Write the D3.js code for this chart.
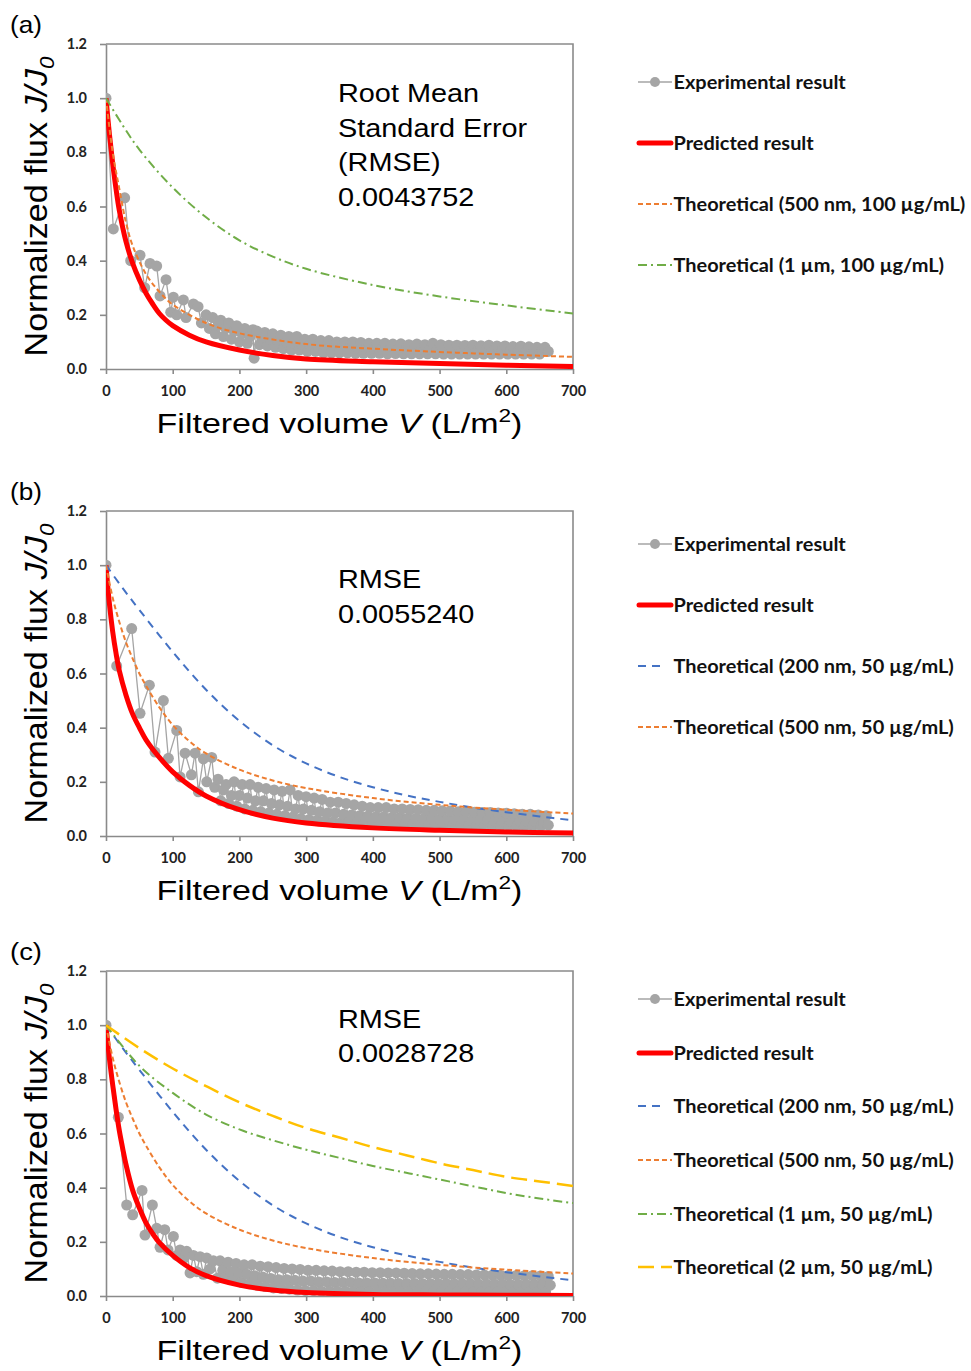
<!DOCTYPE html>
<html>
<head>
<meta charset="utf-8">
<script src="https://cdn.jsdelivr.net/npm/d3@7"></script>
<style>
  html, body { margin: 0; padding: 0; background: #fff; }
  svg { display: block; }
</style>
</head>
<body>
<svg id="fig" width="971" height="1371"></svg>
<script>
// ---- Axis ticks ----
const volumeTicks = [0, 100, 200, 300, 400, 500, 600, 700];
const fluxTicks = [0, 0.2, 0.4, 0.6, 0.8, 1.0, 1.2];

// ---- Experimental flux decline, [V (L/m2), J/J0] ----
const expA = [[0,1.0],[11,0.517],[28,0.632],[37,0.40],[51,0.42],[58,0.30],[66,0.39],[76,0.38],[81,0.27],[90,0.33],[97,0.21],[101,0.265],[106,0.20],[116,0.255],[120,0.19],[131,0.24],[138,0.23],[143,0.17],[150,0.20],[155,0.15],
[160,0.19],[164,0.13],[168,0.16],[172,0.18],[176,0.12],[180,0.15],[184,0.17],[188,0.11],[192,0.14],[196,0.16],[200,0.10],[204,0.13],[208,0.15],[212,0.095],[216,0.12],[220,0.145],[222,0.04],[226,0.14],[230,0.09],[234,0.115],[238,0.135],[242,0.085],[246,0.11],[250,0.13],[254,0.08],[258,0.105],[262,0.125],[266,0.075],[270,0.10],[274,0.12],[278,0.07],[282,0.095],[286,0.12],[290,0.07],[294,0.09],[298,0.11],
[302,0.065],[306,0.09],[310,0.11],[314,0.065],[318,0.085],[322,0.105],[326,0.06],[330,0.085],[334,0.105],[338,0.06],[342,0.08],[346,0.10],[350,0.06],[354,0.08],[358,0.10],[362,0.06],[366,0.08],[370,0.10],[374,0.058],[378,0.078],[382,0.098],[386,0.058],[390,0.078],[394,0.095],[398,0.058],[402,0.078],[406,0.095],
[410,0.058],[414,0.076],[418,0.095],[422,0.056],[426,0.075],[430,0.092],[434,0.057],[438,0.075],[442,0.093],[446,0.056],[450,0.074],[454,0.09],[458,0.056],[462,0.074],[466,0.092],[470,0.056],[474,0.073],[478,0.09],[482,0.056],[486,0.073],[490,0.095],[494,0.056],[498,0.073],[502,0.09],[506,0.055],[510,0.072],[514,0.088],[518,0.055],[522,0.072],[526,0.088],[530,0.055],[534,0.071],[538,0.087],[542,0.055],[546,0.071],[550,0.088],[554,0.055],[558,0.07],[562,0.086],[566,0.055],[570,0.07],[574,0.088],[578,0.055],[582,0.07],[586,0.085],[590,0.055],[594,0.069],[598,0.085],
[602,0.055],[606,0.068],[610,0.083],[614,0.055],[618,0.068],[622,0.084],[626,0.055],[630,0.068],[634,0.082],[638,0.055],[642,0.067],[646,0.08],[650,0.055],[654,0.067],[658,0.08],[663,0.065]];

const expB = [[0,1.0],[16,0.628],[38.5,0.766],[51,0.453],[65,0.557],[73.5,0.31],[86,0.50],[93.5,0.287],[106,0.39],[111,0.218],[118.5,0.306],[128,0.226],[133.5,0.306],[138.5,0.163],[146,0.285],[151,0.20],[158.5,0.29],[163,0.18],
[168,0.21],[172,0.13],[176,0.17],[180,0.19],[184,0.12],[188,0.15],[192,0.20],[196,0.11],[200,0.15],[204,0.19],[208,0.10],[212,0.14],[216,0.19],[220,0.095],[224,0.13],[228,0.18],[232,0.09],[236,0.13],[240,0.175],[244,0.085],[248,0.12],[252,0.17],[256,0.08],[260,0.115],[264,0.165],[268,0.075],[272,0.11],[276,0.17],[280,0.07],[284,0.10],[288,0.15],[292,0.065],[296,0.10],[300,0.145],
[304,0.06],[308,0.095],[312,0.14],[316,0.058],[320,0.09],[324,0.135],[328,0.055],[332,0.085],[336,0.125],[340,0.052],[344,0.085],[348,0.125],[352,0.05],[356,0.08],[360,0.12],[364,0.05],[368,0.078],[372,0.115],[376,0.048],[380,0.075],[384,0.11],[388,0.048],[392,0.073],[396,0.105],[400,0.046],
[404,0.07],[408,0.105],[412,0.045],[416,0.07],[420,0.105],[424,0.045],[428,0.068],[432,0.10],[436,0.044],[440,0.067],[444,0.10],[448,0.043],[452,0.066],[456,0.098],[460,0.043],[464,0.065],[468,0.097],[472,0.042],[476,0.064],[480,0.095],[484,0.042],[488,0.063],[492,0.095],[496,0.041],[500,0.062],
[504,0.093],[508,0.041],[512,0.061],[516,0.092],[520,0.04],[524,0.06],[528,0.09],[532,0.04],[536,0.06],[540,0.09],[544,0.04],[548,0.058],[552,0.088],[556,0.039],[560,0.057],[564,0.087],[568,0.039],[572,0.056],[576,0.087],[580,0.038],[584,0.055],[588,0.085],[592,0.038],[596,0.055],[600,0.084],
[604,0.038],[608,0.054],[612,0.082],[616,0.037],[620,0.053],[624,0.08],[628,0.037],[632,0.052],[636,0.08],[640,0.037],[644,0.052],[648,0.078],[652,0.037],[656,0.05],[660,0.075],[663,0.04]];

const expC = [[0,1.0],[18.5,0.66],[31,0.336],[40,0.30],[54,0.39],[58.5,0.225],[69.5,0.336],[76,0.25],[81,0.18],[88,0.245],[93,0.17],[101,0.22],[106,0.15],[111,0.17],[117,0.14],[121,0.165],[126,0.085],[131,0.15],[136,0.09],[141,0.145],[146,0.08],[151,0.14],[156,0.10],[161,0.13],
[167,0.066],[171,0.13],[175,0.095],[179,0.07],[183,0.125],[187,0.09],[191,0.06],[195,0.12],[199,0.085],[203,0.05],[207,0.115],[211,0.08],[215,0.045],[219,0.115],[223,0.075],[227,0.04],[231,0.11],[235,0.07],[239,0.035],[243,0.108],[247,0.065],[251,0.03],[255,0.105],[259,0.06],[263,0.028],[267,0.102],[271,0.06],[275,0.025],[279,0.10],[283,0.058],[287,0.022],[291,0.098],[295,0.055],[299,0.02],
[303,0.095],[307,0.055],[311,0.02],[315,0.095],[319,0.052],[323,0.018],[327,0.093],[331,0.052],[335,0.018],[339,0.092],[343,0.05],[347,0.017],[351,0.09],[355,0.05],[359,0.017],[363,0.09],[367,0.05],[371,0.016],[375,0.088],[379,0.048],[383,0.016],[387,0.088],[391,0.048],[395,0.016],[399,0.086],
[403,0.048],[407,0.015],[411,0.086],[415,0.047],[419,0.015],[423,0.085],[427,0.047],[431,0.015],[435,0.085],[439,0.046],[443,0.015],[447,0.084],[451,0.046],[455,0.015],[459,0.083],[463,0.046],[467,0.015],[471,0.082],[475,0.045],[479,0.015],[483,0.082],[487,0.045],[491,0.015],[495,0.081],[499,0.045],
[503,0.015],[507,0.08],[511,0.045],[515,0.015],[519,0.08],[523,0.044],[527,0.015],[531,0.079],[535,0.044],[539,0.015],[543,0.079],[547,0.044],[551,0.015],[555,0.078],[559,0.043],[563,0.015],[567,0.078],[571,0.043],[575,0.015],[579,0.077],[583,0.043],[587,0.015],[591,0.077],[595,0.043],[599,0.015],
[603,0.076],[607,0.042],[611,0.015],[615,0.076],[619,0.042],[623,0.015],[627,0.075],[631,0.042],[635,0.015],[639,0.075],[643,0.042],[647,0.015],[651,0.074],[655,0.042],[659,0.015],[663,0.072],[666,0.04]];

// ---- Model predictions, [V, J/J0] ----
const predA = [[0,1.0],[5,0.87],[10,0.76],[15,0.665],[20,0.585],[30,0.47],[40,0.39],[50,0.33],[60,0.28],[70,0.24],[80,0.205],[90,0.18],[100,0.16],[125,0.125],[150,0.10],[200,0.07],[250,0.05],[300,0.037],[400,0.027],[500,0.02],[600,0.014],[700,0.009]];
const predB = [[0,1.0],[5,0.86],[10,0.755],[15,0.675],[20,0.61],[30,0.52],[40,0.45],[50,0.40],[60,0.355],[80,0.29],[100,0.237],[125,0.187],[150,0.148],[200,0.097],[250,0.066],[300,0.048],[400,0.03],[500,0.021],[600,0.015],[700,0.011]];
const predC = [[0,1.0],[5,0.88],[10,0.78],[15,0.69],[20,0.61],[25,0.545],[30,0.485],[40,0.39],[50,0.325],[60,0.27],[70,0.23],[80,0.197],[100,0.15],[125,0.105],[150,0.075],[200,0.04],[250,0.022],[300,0.013],[400,0.006],[500,0.004],[600,0.003],[700,0.002]];

// ---- Theoretical blocking curves, [V, J/J0] ----
const theo500nm100 = [[0,1.0],[10,0.80],[20,0.665],[30,0.54],[40,0.455],[60,0.35],[80,0.285],[100,0.238],[150,0.17],[200,0.132],[300,0.092],[400,0.075],[500,0.063],[600,0.053],[700,0.045]];
const theo1um100 = [[0,1.0],[25,0.90],[50,0.81],[100,0.67],[150,0.56],[200,0.475],[250,0.415],[300,0.37],[400,0.31],[500,0.268],[600,0.235],[700,0.205]];
const theo200nm50 = [[0,1.0],[25,0.915],[50,0.835],[100,0.68],[150,0.54],[200,0.425],[250,0.335],[300,0.268],[350,0.218],[400,0.18],[450,0.15],[500,0.126],[550,0.105],[600,0.088],[650,0.072],[700,0.058]];
const theo500nm50 = [[0,1.0],[10,0.88],[20,0.79],[30,0.715],[40,0.655],[50,0.60],[60,0.555],[80,0.475],[100,0.41],[125,0.35],[150,0.305],[200,0.245],[250,0.205],[300,0.177],[400,0.14],[500,0.115],[600,0.097],[700,0.083]];
const theo1um50 = [[0,1.0],[50,0.85],[100,0.75],[150,0.67],[200,0.615],[250,0.575],[300,0.54],[350,0.51],[400,0.48],[450,0.455],[500,0.43],[550,0.405],[600,0.38],[650,0.36],[700,0.343]];
const theo2um50 = [[0,1.0],[50,0.915],[100,0.84],[150,0.775],[200,0.715],[250,0.665],[300,0.62],[350,0.585],[400,0.55],[450,0.52],[500,0.49],[550,0.465],[600,0.44],[650,0.423],[700,0.406]];

// ---- Labels ----
const panelLabels = ["(a)", "(b)", "(c)"];
const rmseTexts = [
  ["Root Mean", "Standard Error", "(RMSE)", "0.0043752"],
  ["RMSE", "0.0055240"],
  ["RMSE", "0.0028728"]
];
const legendA = ["Experimental result", "Predicted result", "Theoretical (500 nm, 100 µg/mL)", "Theoretical (1 µm, 100 µg/mL)"];
const legendB = ["Experimental result", "Predicted result", "Theoretical (200 nm, 50 µg/mL)", "Theoretical (500 nm, 50 µg/mL)"];
const legendC = ["Experimental result", "Predicted result", "Theoretical (200 nm, 50 µg/mL)", "Theoretical (500 nm, 50 µg/mL)", "Theoretical (1 µm, 50 µg/mL)", "Theoretical (2 µm, 50 µg/mL)"];

// ---- Line styles ----
const styles = {
  exp:    { color: "#a5a5a5", width: 1.3, dash: null },
  pred:   { color: "#ff0000", width: 5,   dash: null },
  blue:   { color: "#4472c4", width: 2,   dash: "8,6" },
  orange: { color: "#ed7d31", width: 2,   dash: "5,3" },
  green:  { color: "#70ad47", width: 2,   dash: "9,4,2,4" },
  yellow: { color: "#ffc000", width: 2.5, dash: "16,7" }
};

// ---- Panel layout ----
const panels = [
  { label: panelLabels[0], top: 44, exp: expA, pred: predA,
    theory: [[theo500nm100, "orange"], [theo1um100, "green"]],
    legend: legendA, legendKinds: ["exp", "pred", "orange", "green"], legendY: [82, 143, 204, 265],
    rmse: rmseTexts[0], rmseY: [102, 136.5, 171, 205.5] },
  { label: panelLabels[1], top: 511, exp: expB, pred: predB,
    theory: [[theo200nm50, "blue"], [theo500nm50, "orange"]],
    legend: legendB, legendKinds: ["exp", "pred", "blue", "orange"], legendY: [544, 605, 666, 727],
    rmse: rmseTexts[1], rmseY: [588, 622.5] },
  { label: panelLabels[2], top: 971, exp: expC, pred: predC,
    theory: [[theo200nm50, "blue"], [theo500nm50, "orange"], [theo1um50, "green"], [theo2um50, "yellow"]],
    legend: legendC, legendKinds: ["exp", "pred", "blue", "orange", "green", "yellow"], legendY: [999, 1053, 1106, 1160, 1214, 1267],
    rmse: rmseTexts[2], rmseY: [1028, 1062] }
];

const svg = d3.select("#fig");
const plotLeft = 106, plotRight = 573, plotH = 325;
const axisColor = "#8a8a8a";
const sansFont = "'Liberation Sans', Arial, sans-serif";
const boldFont = "Lato, 'Open Sans', sans-serif";

// horizontal stretch that makes a text span the given width
function fit(textSel, width) {
  const w = textSel.node().getComputedTextLength();
  return width / w;
}

// one common stretch for the bold legend font, set by the longest entry
const probe = svg.append("text").attr("font-family", boldFont).attr("font-weight", 700)
  .attr("font-size", 18).text(legendA[2]);
const legendScale = fit(probe, 292);
probe.remove();

panels.forEach((p, i) => {
  const g = svg.append("g");
  const x = d3.scaleLinear().domain([0, 700]).range([plotLeft, plotRight]);
  const y = d3.scaleLinear().domain([0, 1.2]).range([p.top + plotH, p.top]);

  const clipId = "clip" + i;
  g.append("clipPath").attr("id", clipId).append("rect")
    .attr("x", plotLeft).attr("y", p.top - 3).attr("width", plotRight - plotLeft + 3).attr("height", plotH + 3);

  // frame: top and right edges
  g.append("path")
    .attr("d", `M${plotLeft},${p.top}H${plotRight}V${p.top + plotH}`)
    .attr("fill", "none").attr("stroke", axisColor).attr("stroke-width", 1.6);

  // axes
  const xAxis = g.append("g").attr("transform", `translate(0,${p.top + plotH})`)
    .call(d3.axisBottom(x).tickValues(volumeTicks).tickFormat(d3.format("d")).tickSize(5).tickSizeOuter(0).tickPadding(12));
  const yAxis = g.append("g").attr("transform", `translate(${plotLeft},0)`)
    .call(d3.axisLeft(y).tickValues(fluxTicks).tickFormat(d3.format(".1f")).tickSize(6).tickSizeOuter(0).tickPadding(13));
  [xAxis, yAxis].forEach(a => {
    a.select(".domain").attr("stroke", axisColor).attr("stroke-width", 1.6);
    a.selectAll(".tick line").attr("stroke", axisColor).attr("stroke-width", 1.6);
    a.selectAll(".tick text").attr("fill", "#222").attr("font-family", boldFont)
      .attr("font-weight", 700).attr("font-size", 14.5);
  });

  const plot = g.append("g").attr("clip-path", `url(#${clipId})`);
  const smooth = d3.line().x(d => x(d[0])).y(d => y(d[1])).curve(d3.curveCatmullRom.alpha(0.5));
  const straight = d3.line().x(d => x(d[0])).y(d => y(d[1]));

  // experimental series: thin connecting line with round markers
  plot.append("path").attr("d", straight(p.exp)).attr("fill", "none")
    .attr("stroke", styles.exp.color).attr("stroke-width", styles.exp.width);
  plot.append("g").selectAll("circle").data(p.exp).join("circle")
    .attr("cx", d => x(d[0])).attr("cy", d => y(d[1])).attr("r", 5.5)
    .attr("fill", styles.exp.color);

  // predicted curve
  plot.append("path").attr("d", smooth(p.pred)).attr("fill", "none")
    .attr("stroke", styles.pred.color).attr("stroke-width", styles.pred.width)
    .attr("stroke-linejoin", "round");

  // theoretical curves
  p.theory.forEach(([data, kind]) => {
    const s = styles[kind];
    plot.append("path").attr("d", smooth(data)).attr("fill", "none")
      .attr("stroke", s.color).attr("stroke-width", s.width).attr("stroke-dasharray", s.dash);
  });

  // panel label
  const lab = g.append("text").attr("font-family", sansFont).attr("font-size", 24).text(p.label);
  lab.attr("transform", `translate(10,${p.top - 11}) scale(${fit(lab, 32)},1)`);

  // y-axis title
  const yt = g.append("text").attr("font-family", sansFont).attr("font-size", 32)
    .attr("text-anchor", "middle").attr("fill", "#000");
  yt.append("tspan").text("Normalized flux ");
  yt.append("tspan").attr("font-style", "italic").text("J/J");
  yt.append("tspan").attr("font-style", "italic").attr("font-size", 21).attr("dy", 7).text("0");
  yt.attr("transform", `translate(47,${p.top + plotH / 2}) rotate(-90) scale(${fit(yt, 300)},1)`);

  // x-axis title
  const xt = g.append("text").attr("font-family", sansFont).attr("font-size", 27)
    .attr("text-anchor", "middle").attr("fill", "#000");
  xt.append("tspan").text("Filtered volume ");
  xt.append("tspan").attr("font-style", "italic").text("V");
  xt.append("tspan").text(" (L/m");
  xt.append("tspan").attr("font-size", 18).attr("dy", -11).text("2");
  xt.append("tspan").attr("dy", 11).text(")");
  xt.attr("transform", `translate(${(plotLeft + plotRight) / 2},${p.top + plotH + 64}) scale(${fit(xt, 366)},1)`);

  // RMSE annotation
  p.rmse.forEach((line, k) => {
    const t = g.append("text").attr("font-family", sansFont).attr("font-size", 26).attr("fill", "#000").text(line);
    t.attr("transform", `translate(338,${p.rmseY[k]}) scale(1.11,1)`);
  });

  // legend
  p.legend.forEach((label, k) => {
    const kind = p.legendKinds[k];
    const s = styles[kind];
    const cy = p.legendY[k];
    const lg = g.append("g");
    if (kind === "exp") {
      lg.append("line").attr("x1", 638).attr("x2", 672).attr("y1", cy).attr("y2", cy)
        .attr("stroke", s.color).attr("stroke-width", 1.5);
      lg.append("circle").attr("cx", 655).attr("cy", cy).attr("r", 5).attr("fill", s.color);
    } else if (kind === "pred") {
      lg.append("line").attr("x1", 639).attr("x2", 671).attr("y1", cy).attr("y2", cy)
        .attr("stroke", s.color).attr("stroke-width", 5).attr("stroke-linecap", "round");
    } else {
      const end = kind === "blue" ? 661 : 672;
      lg.append("line").attr("x1", 638).attr("x2", end).attr("y1", cy).attr("y2", cy)
        .attr("stroke", s.color).attr("stroke-width", s.width).attr("stroke-dasharray", s.dash);
    }
    const t = lg.append("text").attr("font-family", boldFont).attr("font-weight", 700)
      .attr("font-size", 18).attr("fill", "#111").text(label);
    t.attr("transform", `translate(673.5,${cy + 6.5}) scale(${legendScale},1)`);
  });
});
</script>
</body>
</html>
